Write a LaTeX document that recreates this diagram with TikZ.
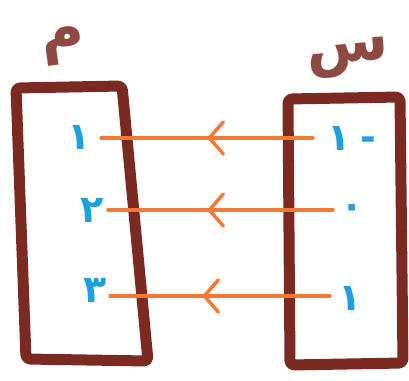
\documentclass[tikz,border=0pt]{standalone}
\usepackage{fontspec}
\newfontfamily\arabicfont[Script=Arabic]{DejaVu Sans}
\TeXXeTstate=1
\usetikzlibrary{arrows.meta,decorations.markings}
\definecolor{brownink}{HTML}{7A2A20}
\definecolor{orangeink}{HTML}{F27A35}
\definecolor{blueink}{HTML}{1FA0DE}
\tikzset{
  setbox/.style={draw=brownink, line width=11pt, rounded corners=4pt, line join=round},
  maparrow/.style={draw=orangeink, line width=3.5pt, line cap=round},
  digit/.style={text=blueink, font=\arabicfont\bfseries\fontsize{38}{38}\selectfont, inner sep=0pt},
  setname/.style={text=brownink!85, font=\arabicfont\bfseries\fontsize{60}{60}\selectfont, inner sep=0pt},
  midtip/.style={decorate, decoration={markings, mark=at position #1 with {\arrow[orangeink, line width=3.5pt]{Straight Barb[length=14pt, width=32pt, line cap=round]}}}},
}
\begin{document}
\begin{tikzpicture}[x=1pt, y=-1pt]
\useasboundingbox (0,0) rectangle (409,380);
% set boxes
\draw[setbox] (16,88) -- (122,86) -- (148,361) -- (26,359) -- cycle;
\draw[setbox] (288,99) -- (400,97) -- (403,363) -- (290,365) -- cycle;
% set names
\node[setname, rotate=8] (nameL) at (64,46) {\beginR م\endR};
\node[setname, rotate=5] (nameR) at (348,58) {\beginR س\endR};
% arrow end points
\coordinate (r1) at (313,138);
\coordinate (l1) at (101,138);
\coordinate (r2) at (333,210);
\coordinate (l2) at (108,210);
\coordinate (r3) at (330,296);
\coordinate (l3) at (110,296);
% mapping arrows
\draw[maparrow] (r1) -- (l1);
\draw[maparrow] (r2) -- (l2);
\draw[maparrow] (r3) -- (l3);
\path[midtip=106pt] (r1) -- (l1);
\path[midtip=126pt] (r2) -- (l2);
\path[midtip=128pt] (r3) -- (l3);
% codomain digits
\node[digit] (c1) at (79,137) {۱};
\node[digit] (c2) at (92,210) {۲};
\node[digit] (c3) at (95,290) {۳};
% domain digits
\node[digit] (d1) at (352,138) {\beginR -\hspace{10pt}۱\endR};
\node[digit] (d2) at (352,212) {۰};
\node[digit] (d3) at (350,298) {۱};
\end{tikzpicture}
\end{document}
